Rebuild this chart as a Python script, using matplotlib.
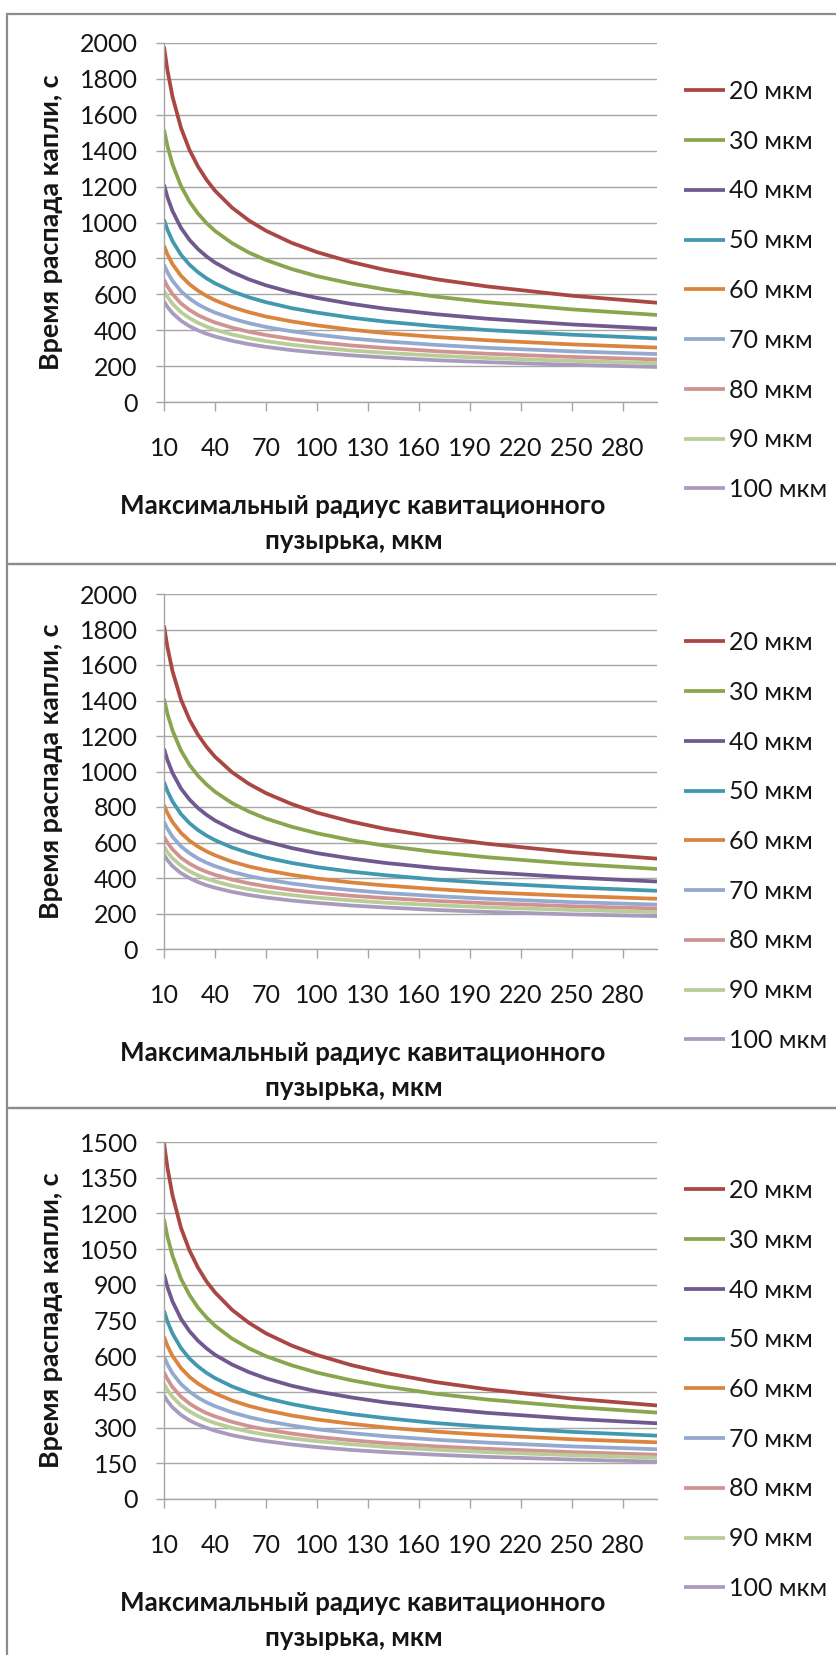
import matplotlib.pyplot as plt
from matplotlib.patches import Rectangle

plt.rcParams['font.family'] = ['Lato', 'Open Sans', 'DejaVu Sans']

# максимальный радиус пузырька, мкм
radius = [10, 12, 15, 20, 25, 30, 35, 40, 50, 60, 70, 85, 100, 120, 140, 170, 200, 250, 300]
drop_labels = ['20 мкм', '30 мкм', '40 мкм', '50 мкм', '60 мкм',
               '70 мкм', '80 мкм', '90 мкм', '100 мкм']
colors = ['#AA4643', '#89A54E', '#71588F', '#4198AF', '#DB843D',
          '#93A9CF', '#D19392', '#B9CD96', '#A99BBD']

panel1 = [
    [1980, 1849, 1701, 1527, 1404, 1312, 1238, 1177, 1083, 1011, 954, 887, 835, 780, 736, 684, 644, 592, 553],
    [1517, 1427, 1324, 1203, 1116, 1050, 997, 953, 885, 832, 791, 741, 701, 660, 627, 587, 556, 516, 485],
    [1211, 1142, 1064, 970, 903, 852, 811, 777, 724, 683, 650, 611, 580, 547, 520, 489, 464, 432, 408],
    [1016, 960, 896, 820, 765, 723, 689, 661, 617, 583, 556, 523, 498, 470, 448, 422, 401, 375, 354],
    [871, 823, 768, 703, 656, 620, 591, 567, 529, 500, 476, 449, 427, 403, 384, 362, 344, 321, 303],
    [765, 723, 675, 617, 576, 544, 519, 498, 465, 439, 418, 394, 375, 354, 338, 318, 302, 282, 267],
    [681, 644, 601, 549, 513, 484, 462, 443, 414, 391, 373, 351, 334, 315, 301, 283, 269, 251, 237],
    [620, 586, 547, 500, 467, 441, 420, 403, 376, 356, 339, 319, 304, 287, 274, 258, 245, 229, 216],
    [561, 530, 495, 453, 422, 399, 380, 365, 341, 322, 307, 289, 275, 260, 248, 233, 222, 207, 195],
]
panel2 = [
    [1822, 1702, 1565, 1405, 1292, 1207, 1139, 1083, 996, 930, 878, 817, 768, 718, 677, 630, 593, 545, 509],
    [1410, 1326, 1231, 1118, 1037, 976, 927, 886, 822, 774, 735, 689, 652, 613, 582, 546, 517, 480, 451],
    [1129, 1065, 992, 904, 842, 794, 756, 724, 675, 636, 606, 569, 540, 510, 485, 456, 433, 403, 380],
    [942, 890, 831, 760, 709, 670, 639, 613, 572, 541, 515, 485, 461, 436, 416, 391, 372, 347, 328],
    [811, 766, 715, 654, 610, 577, 550, 528, 492, 465, 444, 418, 397, 375, 358, 337, 320, 299, 283],
    [717, 678, 632, 578, 540, 510, 486, 467, 435, 411, 392, 369, 351, 332, 316, 298, 283, 264, 250],
    [633, 599, 561, 514, 481, 455, 435, 418, 391, 370, 353, 333, 317, 300, 287, 271, 258, 241, 228],
    [577, 546, 511, 469, 438, 415, 396, 381, 356, 337, 322, 304, 289, 274, 261, 247, 235, 220, 208],
    [530, 501, 467, 427, 399, 377, 359, 345, 322, 304, 290, 273, 260, 245, 234, 220, 209, 195, 185],
]
panel3 = [
    [1496, 1393, 1276, 1139, 1044, 972, 914, 868, 795, 740, 696, 645, 605, 563, 530, 491, 461, 422, 393],
    [1175, 1103, 1022, 925, 857, 804, 763, 728, 674, 633, 600, 562, 531, 499, 473, 442, 418, 387, 363],
    [945, 891, 830, 757, 705, 665, 633, 606, 565, 533, 507, 476, 452, 427, 406, 382, 362, 337, 318],
    [791, 746, 695, 634, 590, 557, 530, 508, 473, 446, 424, 399, 379, 357, 340, 319, 303, 282, 266],
    [682, 644, 601, 550, 513, 485, 463, 444, 414, 391, 373, 351, 334, 316, 301, 283, 269, 251, 238],
    [599, 566, 528, 483, 451, 426, 406, 390, 364, 344, 328, 309, 293, 277, 264, 249, 237, 221, 209],
    [533, 504, 470, 430, 401, 379, 361, 347, 324, 306, 292, 275, 261, 247, 235, 221, 211, 197, 186],
    [484, 458, 429, 393, 368, 348, 332, 319, 299, 283, 270, 255, 243, 230, 219, 207, 197, 184, 174],
    [435, 412, 385, 353, 330, 313, 299, 287, 268, 254, 243, 229, 218, 206, 197, 186, 177, 166, 157],
]
y_max = [2000, 2000, 1500]
y_step = [200, 200, 150]

W, H = 837, 1655
fig = plt.figure(figsize=(W / 100, H / 100), dpi=100)
grid_c = '#A6A6A6'
text_c = '#151515'

# pixel layout of the three chart blocks: plot top, plot bottom, frame top, frame bottom
layout = [(43, 402, 14, 564), (594, 949, 564, 1108), (1142, 1499, 1108, 1662)]

for data, ymax, step, (top, bot, ftop, fbot) in zip([panel1, panel2, panel3], y_max, y_step, layout):
    fig.add_artist(Rectangle((7.5 / W, 1 - fbot / H), (W + 20) / W, (fbot - ftop) / H,
                             transform=fig.transFigure, fill=False, ec='#8C8C8C', lw=1.6))
    ax = fig.add_axes([164 / W, 1 - bot / H, 493 / W, (bot - top) / H])
    for vals, lab, c in zip(data, drop_labels, colors):
        ax.plot(radius, vals, color=c, lw=2.7, label=lab, solid_capstyle='butt')
    ax.set_xlim(10, 300)
    ax.set_ylim(0, ymax)
    ax.set_yticks(range(0, ymax + 1, step))
    ax.set_xticks(range(10, 281, 30))
    ax.grid(axis='y', color=grid_c, lw=1.0)
    ax.set_axisbelow(True)
    for s in ['top', 'right']:
        ax.spines[s].set_visible(False)
    for s in ['left', 'bottom']:
        ax.spines[s].set_color(grid_c)
        ax.spines[s].set_linewidth(1.0)
    ax.tick_params(axis='both', direction='out', color=grid_c, width=1.0,
                   labelsize=18, labelcolor=text_c)
    ax.tick_params(axis='y', length=6, pad=13)
    ax.tick_params(axis='x', length=6.5, pad=19)

    ax.set_ylabel('Время распада капли, с', fontsize=19.4, fontweight='bold', color=text_c)
    ax.yaxis.set_label_coords((63 - 164) / 493, 0.5)

    fig.text(363 / W, 1 - (bot + 104) / H, 'Максимальный радиус кавитационного',
             ha='center', va='center', fontsize=18.6, fontweight='bold', color=text_c)
    fig.text(354 / W, 1 - (bot + 139) / H, 'пузырька, мкм',
             ha='center', va='center', fontsize=18.6, fontweight='bold', color=text_c)

    ax.legend(loc='upper left', bbox_to_anchor=(684 / W, 1 - (top + 37) / H),
              bbox_transform=fig.transFigure, frameon=False, fontsize=18,
              handlelength=1.65, handletextpad=0.15, labelspacing=1.07,
              borderpad=0, borderaxespad=0, labelcolor=text_c)

fig.savefig('out.png', dpi=100, facecolor='white')
